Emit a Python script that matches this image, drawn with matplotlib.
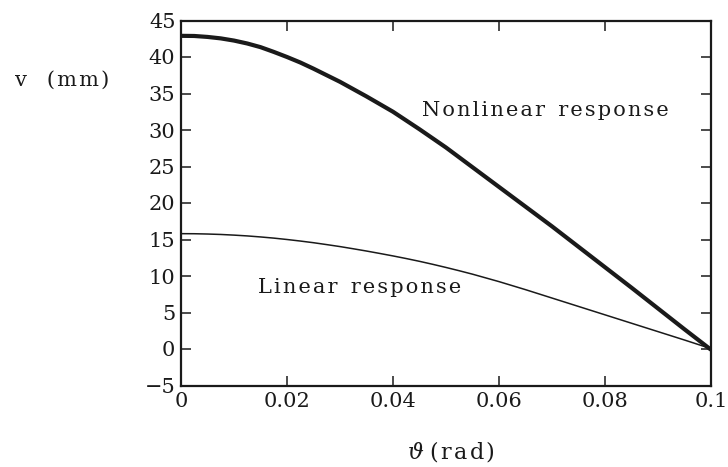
import numpy as np
import matplotlib
matplotlib.use("Agg")
import matplotlib.pyplot as plt

# rotation angle (rad) and tip deflection (mm)
theta = [0.0, 0.0025, 0.005, 0.0075, 0.01, 0.0125, 0.015, 0.0175, 0.02, 0.0225,
         0.025, 0.0275, 0.03, 0.0325, 0.035, 0.0375, 0.04, 0.0425, 0.045, 0.0475,
         0.05, 0.0525, 0.055, 0.06, 0.065, 0.07, 0.075, 0.08, 0.085, 0.09,
         0.095, 0.1]
v_nonlinear = [42.9, 42.88, 42.75, 42.55, 42.25, 41.85, 41.35, 40.7, 40.0, 39.25,
               38.4, 37.5, 36.6, 35.6, 34.6, 33.55, 32.5, 31.3, 30.1, 28.85,
               27.6, 26.25, 24.9, 22.2, 19.5, 16.8, 14.0, 11.2, 8.4, 5.55,
               2.7, -0.1]
v_linear = [15.8, 15.79, 15.75, 15.69, 15.6, 15.49, 15.35, 15.19, 15.0, 14.79,
            14.56, 14.3, 14.03, 13.73, 13.42, 13.09, 12.75, 12.39, 12.01, 11.6,
            11.17, 10.72, 10.25, 9.23, 8.13, 6.98, 5.83, 4.68, 3.53, 2.38,
            1.23, 0.05]

xticks = [0, 0.02, 0.04, 0.06, 0.08, 0.1]
xticklabels = ["0", "0.02", "0.04", "0.06", "0.08", "0.1"]
yticks = list(range(-5, 50, 5))

plt.rcParams['font.family'] = ['DejaVu Serif']
plt.rcParams['mathtext.fontset'] = 'dejavuserif'
INK = '#1a1a1a'


def spaced(s):
    # old plotting packages set labels with a bit of letter spacing
    return "\u200a".join(s)


fig = plt.figure(figsize=(7.28, 4.67), dpi=100)
ax = fig.add_axes([181 / 728, 1 - 385.5 / 467, 530 / 728, 365 / 467])

ax.plot(theta, v_nonlinear, color=INK, lw=3.0, solid_capstyle='butt')
ax.plot(theta, v_linear, color=INK, lw=1.1)

ax.set_xlim(0, 0.1)
ax.set_ylim(-5, 45)
ax.set_xticks(xticks)
ax.set_xticklabels(xticklabels)
ax.set_yticks(yticks)

for s in ax.spines.values():
    s.set_linewidth(1.6)
    s.set_color(INK)
ax.tick_params(direction='in', length=7, width=1.1, top=True, right=True,
               labelsize=15, colors=INK)
ax.tick_params(axis='y', pad=4)
ax.tick_params(axis='x', pad=5)

fig.text(15 / 728, 1 - 80 / 467, spaced("v") + "   " + spaced("(mm)"), fontsize=15,
         va='center', ha='left', color=INK)
fig.text(451 / 728, 1 - 452 / 467, r"$\vartheta$ " + spaced("(rad)"), fontsize=16,
         va='center', ha='center', color=INK)
ax.text(0.0455, 32.7, spaced("Nonlinear") + "  " + spaced("response"), fontsize=15,
        va='center', ha='left', color=INK)
ax.text(0.0145, 8.4, spaced("Linear") + "  " + spaced("response"), fontsize=15,
        va='center', ha='left', color=INK)

fig.savefig("out.png", dpi=100)
